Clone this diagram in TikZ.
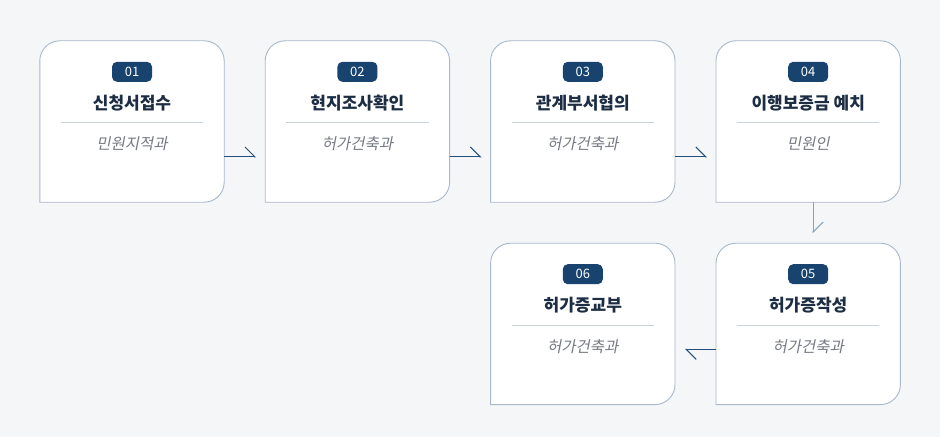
\documentclass[tikz,border=0pt]{standalone}
\usepackage{fontspec}
\setmainfont{Noto Sans CJK KR}
\newfontfamily\krslant[FakeSlant=0.2]{Noto Sans CJK KR}
\usepackage{xcolor}
\usetikzlibrary{positioning, arrows.meta, calc}

\definecolor{pagebg}{HTML}{F4F6F8}
\definecolor{cardline}{HTML}{A9B8CA}
\definecolor{badgeblue}{HTML}{17436E}
\definecolor{titleink}{HTML}{1C2D44}
\definecolor{ruleline}{HTML}{C9D1DB}
\definecolor{subink}{HTML}{767A81}
\definecolor{linkdark}{HTML}{234E7A}
\definecolor{linklight}{HTML}{86A2BB}

\begin{document}
\begin{tikzpicture}[
    x=1pt, y=-1pt,
    card/.style={rectangle, minimum width=184pt, minimum height=161pt, inner sep=0pt},
    cardedge/.style={draw=cardline, line width=0.9pt, fill=white},
    badge/.style={rectangle, rounded corners=5pt, fill=badgeblue, text=white, minimum width=40pt, minimum height=20pt, inner sep=0pt, font=\fontsize{13}{14}\selectfont},
    steptitle/.style={text=titleink, font=\fontsize{17}{19}\selectfont\bfseries},
    stepsub/.style={text=subink, font=\fontsize{15.5}{18}\krslant},
    link/.style={line width=1pt, -{Straight Barb[harpoon, length=10pt, width=20pt]}}
]

\useasboundingbox (0,0) rectangle (940,441);
\fill[pagebg] (0,0) rectangle (940,437);

% cards
\node[card] (b1) at (132,121.5) {};
\node[card, right=41pt of b1] (b2) {};
\node[card, right=41pt of b2] (b3) {};
\node[card, right=41pt of b3] (b4) {};
\node[card, below=41pt of b4] (b5) {};
\node[card, left=41pt of b5] (b6) {};

\foreach \b/\n/\t/\s in {b1/01/신청서접수/민원지적과, b2/02/현지조사확인/허가건축과,
    b3/03/관계부서협의/허가건축과, b4/04/이행보증금 예치/민원인,
    b5/05/허가증작성/허가건축과, b6/06/허가증교부/허가건축과} {
  \path[cardedge] (\b.south) [rounded corners=20pt] -- (\b.south east) -- (\b.north east)
    -- (\b.north west) -- (\b.west) [sharp corners] -- (\b.south west) -- cycle;
  \node[badge] (\b-num) at ($(\b.north)+(0,31)$) {\n};
  \node[steptitle] (\b-title) at ($(\b.north)+(0,62)$) {\t};
  \draw[ruleline, line width=0.8pt] ($(\b.north west)+(21,82)$) -- ($(\b.north east)+(-21,82)$);
  \node[stepsub] (\b-sub) at ($(\b.north)+(0,103)$) {\s};
}

% connectors
\draw[link, linkdark] ([yshift=-35.5pt]b1.east) -- ([xshift=-9pt, yshift=-35.5pt]b2.west);
\draw[link, linkdark] ([yshift=-35.5pt]b2.east) -- ([xshift=-9pt, yshift=-35.5pt]b3.west);
\draw[link, linkdark] ([yshift=-35.5pt]b3.east) -- ([xshift=-9pt, yshift=-35.5pt]b4.west);
\draw[link, linklight] ([xshift=5pt]b4.south) -- ([xshift=5pt, yshift=10pt]b5.north);
\draw[link, linkdark] ([yshift=-25.5pt]b5.west) -- ([xshift=10pt, yshift=-25.5pt]b6.east);
\end{tikzpicture}
\end{document}
